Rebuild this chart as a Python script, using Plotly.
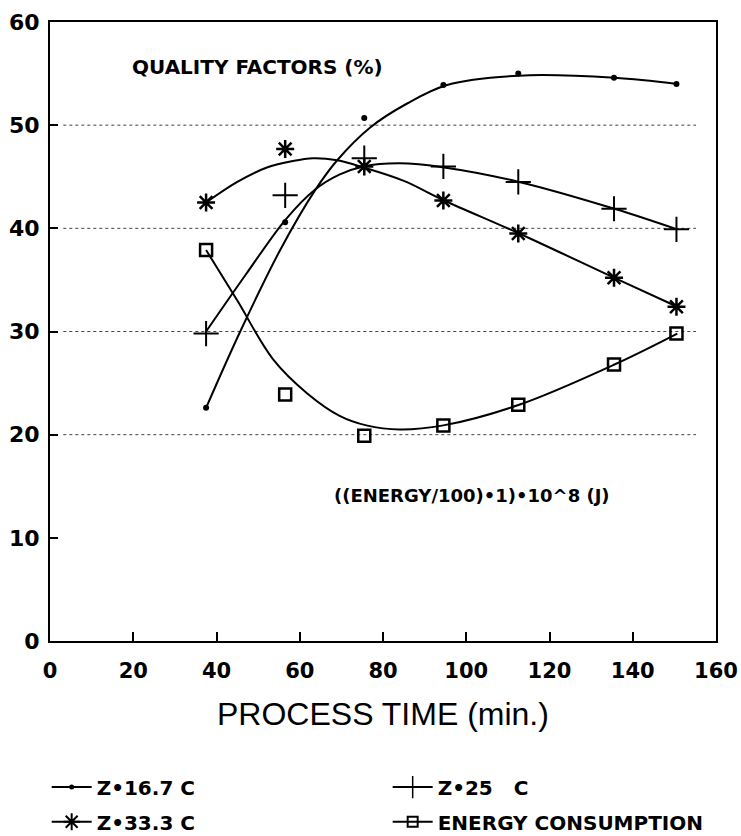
import plotly.graph_objects as go

# ---- data ----
time_min = [37.5, 56.5, 75.5, 94.5, 112.5, 135.5, 150.5]
z167 = [22.6, 40.6, 50.7, 53.9, 55.0, 54.6, 54.0]
z25 = [29.8, 43.2, 46.8, 46.0, 44.5, 41.9, 39.9]
z333 = [42.5, 47.7, 46.0, 42.7, 39.5, 35.2, 32.4]
energy = [37.9, 23.9, 19.9, 20.9, 22.9, 26.8, 29.8]

# fitted curves as drawn in the reference
fit167_x = [37.5, 45.7, 55.3, 63.7, 69.0, 77.0, 85.8, 95.4, 112.7, 135.6, 150.7]
fit167_y = [22.6, 30.0, 37.9, 43.7, 46.6, 49.8, 52.1, 53.9, 54.8, 54.6, 54.0]
fit25_x = [37.5, 47.0, 56.7, 63.5, 69.5, 75.3, 84.0, 94.7, 112.7, 135.6, 150.7]
fit25_y = [30.0, 35.5, 40.9, 43.7, 45.2, 46.0, 46.3, 45.9, 44.5, 41.9, 39.9]
fit333_x = [37.5, 45.0, 52.1, 58.0, 63.2, 69.0, 75.3, 85.0, 94.7, 112.7, 135.6, 150.7]
fit333_y = [42.5, 44.5, 45.9, 46.5, 46.8, 46.6, 45.9, 44.6, 42.7, 39.5, 35.2, 32.4]
fitE_x = [37.5, 45.0, 53.6, 61.8, 69.7, 76.0, 84.0, 94.5, 112.7, 135.6, 150.7]
fitE_y = [37.9, 33.0, 27.3, 24.0, 21.8, 20.9, 20.5, 20.9, 22.9, 26.8, 29.8]

grid_levels = [20, 30, 40, 50]

names = ["Z•16.7 C", "Z•25\u00a0\u00a0\u00a0C", "Z•33.3 C", "ENERGY CONSUMPTION"]
legend_ids = ["legend", "legend", "legend2", "legend2"]
BOLD = "DejaVu Sans"

fig = go.Figure()

series = [
    (fit167_x, fit167_y, z167, dict(symbol="circle", size=6, color="black")),
    (fit25_x, fit25_y, z25, dict(symbol="cross-thin-open", size=18,
                                 line=dict(width=2, color="black"), color="black")),
    (fit333_x, fit333_y, z333, dict(symbol="asterisk-open", size=15,
                                    line=dict(width=2.5, color="black"), color="black")),
    (fitE_x, fitE_y, energy, dict(symbol="square-open", size=12,
                                  line=dict(width=2.5, color="black"), color="black")),
]

for (fx, fy, vals, mk), nm in zip(series, names):
    fig.add_trace(go.Scatter(x=fx, y=fy, mode="lines", showlegend=False,
                             line=dict(color="black", width=2, shape="spline", smoothing=1.0),
                             hoverinfo="skip"))
    fig.add_trace(go.Scatter(x=time_min, y=vals, mode="markers", showlegend=False,
                             marker=mk))

# legend entries (row1: 16.7, 25 ; row2: 33.3, energy)
legend_marks = [
    dict(symbol="circle", size=5, color="black"),
    dict(symbol="cross-thin-open", size=16, line=dict(width=1.5, color="black"), color="black"),
    dict(symbol="asterisk-open", size=14, line=dict(width=2, color="black"), color="black"),
    dict(symbol="square-open", size=10, line=dict(width=2, color="black"), color="black"),
]
for nm, mk, lg in zip(names, legend_marks, legend_ids):
    fig.add_trace(go.Scatter(x=[None], y=[None], mode="lines+markers", name=nm, legend=lg,
                             line=dict(color="black", width=2), marker=mk))

for g in grid_levels:
    fig.add_shape(type="line", xref="paper", yref="y", x0=0.02, x1=0.97, y0=g, y1=g,
                  line=dict(color="#444", width=1, dash="dot"), layer="below")

fig.add_annotation(x=19.2, y=55.6, xref="x", yref="y", xanchor="left", yanchor="middle",
                   text="QUALITY FACTORS (%)", showarrow=False,
                   font=dict(family=BOLD, size=20, color="black", weight="bold"))
fig.add_annotation(x=67.8, y=14.1, xref="x", yref="y", xanchor="left", yanchor="middle",
                   text="((ENERGY/100)•1)•10^8 (J)", showarrow=False,
                   font=dict(family=BOLD, size=18, color="black", weight="bold"))
fig.add_annotation(x=0.5, y=-0.118, xref="paper", yref="paper", xanchor="center", yanchor="middle",
                   text="PROCESS TIME (min.)", showarrow=False,
                   font=dict(family="Liberation Sans", size=32, color="black"))

legend_common = dict(orientation="h", x=-0.005, xanchor="left", yanchor="middle",
                     entrywidth=286, entrywidthmode="pixels", itemwidth=40,
                     font=dict(family=BOLD, size=20, color="black", weight="bold"),
                     bgcolor="rgba(0,0,0,0)")

fig.update_layout(
    width=741, height=836,
    margin=dict(l=50, r=25, t=22, b=195, autoexpand=False),
    paper_bgcolor="white", plot_bgcolor="white",
    showlegend=True,
    legend=dict(y=-0.236, **legend_common),
    legend2=dict(y=-0.292, **legend_common),
    xaxis=dict(range=[0, 160], tickvals=[0, 20, 40, 60, 80, 100, 120, 140, 160],
               ticks="inside", ticklen=9, tickwidth=2, tickcolor="black",
               showline=True, linewidth=2, linecolor="black", mirror=True,
               showgrid=False, zeroline=False, ticklabelstandoff=10,
               tickfont=dict(family=BOLD, size=21, color="black", weight="bold")),
    yaxis=dict(range=[0, 60], tickvals=[0, 10, 20, 30, 40, 50, 60],
               ticks="inside", ticklen=8, tickwidth=2, tickcolor="black",
               showline=True, linewidth=2, linecolor="black", mirror=True,
               showgrid=False, zeroline=False, ticklabelstandoff=4,
               tickfont=dict(family=BOLD, size=22, color="black", weight="bold")),
)

fig.write_html("out.html")
